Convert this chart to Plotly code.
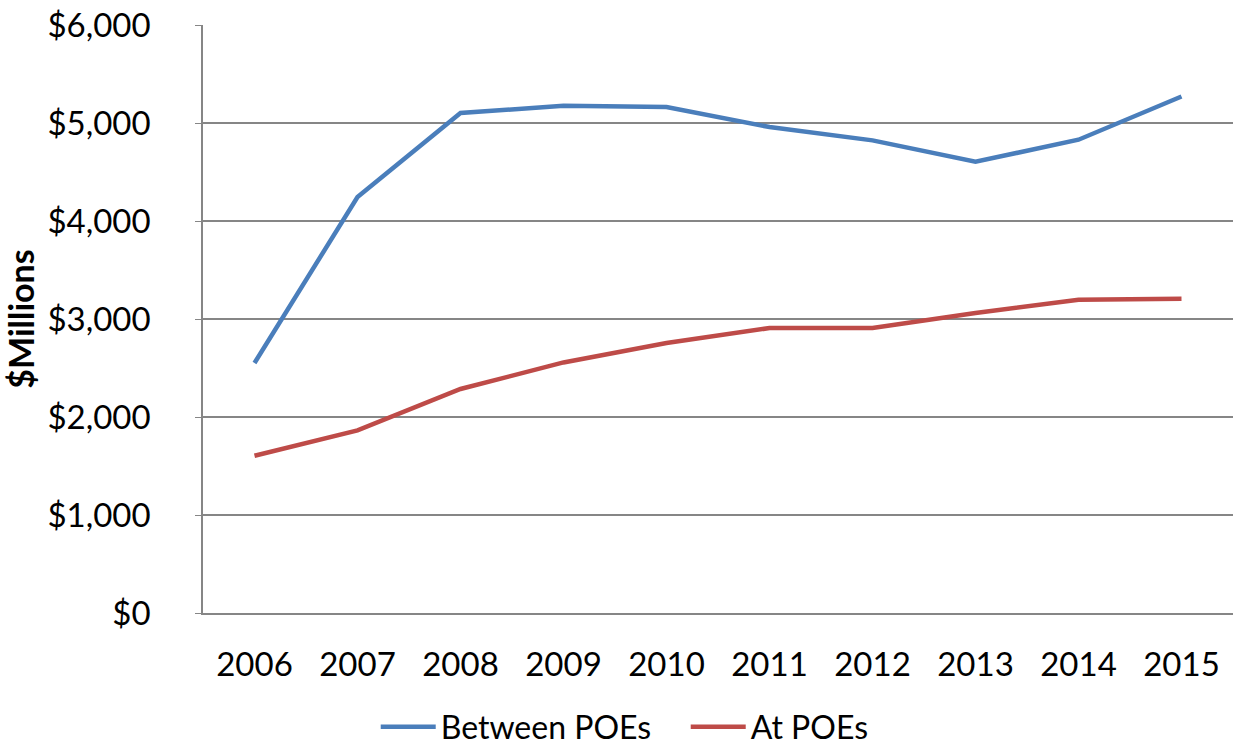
import plotly.graph_objects as go

years = ["2006", "2007", "2008", "2009", "2010", "2011", "2012", "2013", "2014", "2015"]
between_poes = [2551, 4245, 5102, 5177, 5163, 4959, 4823, 4605, 4830, 5271]
at_poes = [1605, 1863, 2286, 2557, 2755, 2908, 2908, 3061, 3197, 3207]
y_ticks = [0, 1000, 2000, 3000, 4000, 5000, 6000]
y_tick_labels = ["$" + format(v, ",") for v in y_ticks]

FONT = "Lato"
fig = go.Figure()
fig.add_trace(go.Scatter(x=years, y=between_poes, mode="lines", name="Between POEs",
                         line=dict(color="#4A7EBB", width=4.5)))
fig.add_trace(go.Scatter(x=years, y=at_poes, mode="lines", name="At POEs",
                         line=dict(color="#BE4B48", width=4.5)))

fig.update_layout(
    width=1240, height=746,
    margin=dict(l=203, r=7, t=25, b=133, autoexpand=False),
    paper_bgcolor="white", plot_bgcolor="white",
    font=dict(family=FONT, size=33, color="black"),
    showlegend=True,
    legend=dict(orientation="h", xref="container", yref="paper",
                x=0.553, xanchor="center", y=-0.194, yanchor="middle",
                font=dict(size=32), itemwidth=55, entrywidth=240,
                tracegroupgap=0),
)
fig.update_xaxes(type="category", range=[-0.5, 9.5], showgrid=False, showline=True,
                 linecolor="#868686", linewidth=1.5, ticks="", ticklabelstandoff=22)
fig.update_yaxes(range=[0, 6000.5], tickvals=y_ticks, ticktext=y_tick_labels,
                 showgrid=True, gridcolor="#868686", gridwidth=1.5,
                 showline=True, linecolor="#868686", linewidth=1.5,
                 ticks="outside", ticklen=6, tickcolor="#868686",
                 ticklabelstandoff=38, ticklabeloverflow="allow", zeroline=False,
                 title=dict(text="<b>$Millions</b>", font=dict(size=34), standoff=7))
fig.write_html("out.html", config={"displayModeBar": False},
               post_script="document.body.style.margin='0';document.body.style.overflow='hidden';")
